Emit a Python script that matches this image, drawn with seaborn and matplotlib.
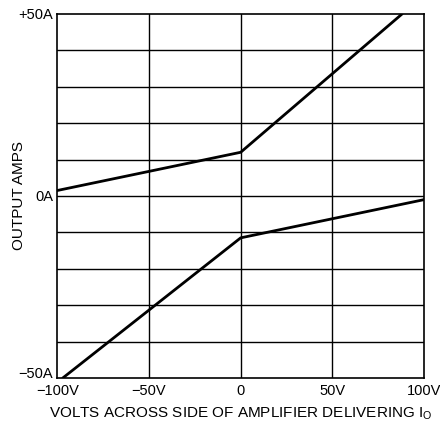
import numpy as np
import pandas as pd
import matplotlib
matplotlib.use('Agg')
import matplotlib.pyplot as plt
import seaborn as sns

# upper curve
upper_volts = [-100, 0, 88]
upper_amps = [1.5, 12, 50]

# lower curve
lower_volts = [-97, 0, 100]
lower_amps = [-50, -11.5, -1]

x_ticks = [-100, -50, 0, 50, 100]
x_labels = ['\u2212100V', '\u221250V', '0', '50V', '100V']
y_ticks = [-50, 0, 50]
y_labels = ['\u221250A', '0A', '+50A']

curves = pd.concat([
    pd.DataFrame({'Volts': upper_volts, 'Amps': upper_amps, 'Curve': 'upper'}),
    pd.DataFrame({'Volts': lower_volts, 'Amps': lower_amps, 'Curve': 'lower'}),
])

sns.set_style('white')
plt.rcParams['font.family'] = ['Liberation Sans', 'DejaVu Sans']
plt.rcParams['text.color'] = 'black'
plt.rcParams['axes.labelcolor'] = 'black'
plt.rcParams['xtick.color'] = 'black'
plt.rcParams['ytick.color'] = 'black'

fig = plt.figure(figsize=(4.4, 4.21), dpi=100)
ax = fig.add_axes([0.13, 0.102, 0.834, 0.865])

sns.lineplot(
    data=curves,
    x='Volts',
    y='Amps',
    units='Curve',
    estimator=None,
    sort=False,
    color='black',
    linewidth=2,
    ax=ax
)

ax.set_xlim(-100, 100)
ax.set_ylim(-50, 50)

# grid: every 50V, every 10A
for v in np.arange(-50, 100, 50):
    ax.axvline(v, color='black', linewidth=1, zorder=0)
for a in np.arange(-40, 50, 10):
    ax.axhline(a, color='black', linewidth=1, zorder=0)

for side in ax.spines.values():
    side.set_color('black')
    side.set_linewidth(1.2)

ax.set_xticks(x_ticks)
ax.set_xticklabels(x_labels, fontsize=10.5)
ax.set_yticks(y_ticks)
ax.set_yticklabels(y_labels, fontsize=10.5)
ax.tick_params(axis='x', length=0, pad=4)
ax.tick_params(axis='y', length=0, pad=3)
# lift the bottom amp label a little, as in the original
ax.get_yticklabels()[0].set_verticalalignment('baseline')

ax.set_xlabel('VOLTS ACROSS SIDE OF AMPLIFIER DELIVERING I$_\\mathregular{O}$',
              fontsize=11)
ax.xaxis.set_label_coords(0.5, -0.075)
ax.set_ylabel('OUTPUT AMPS', fontsize=11)
ax.yaxis.set_label_coords(-0.085, 0.5)

fig.savefig('out.png', dpi=100)
